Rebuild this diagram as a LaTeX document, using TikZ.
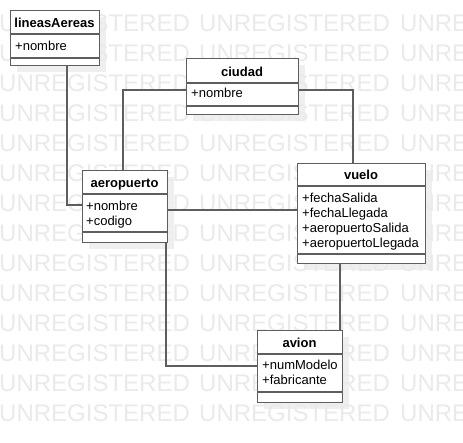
\documentclass[tikz,border=0pt]{standalone}
\usepackage{fontspec}
\setmainfont{Liberation Sans}
\definecolor{wm}{HTML}{EAEAEA}
\definecolor{shd}{HTML}{EFEFEF}
\definecolor{ln}{HTML}{5E5E5E}
\tikzset{
  cls/.style={draw=ln, line width=1.4pt, fill=white, rectangle, inner sep=0pt, anchor=north west},
  shadowbox/.style={fill=shd, draw=none},
  hdr/.style={font=\fontsize{13}{15}\selectfont\bfseries, inner sep=0pt, anchor=base},
  attr/.style={font=\fontsize{13}{15}\selectfont, inner sep=0pt, anchor=base west},
  sep/.style={draw=ln, line width=1.4pt},
  conn/.style={draw=ln, line width=1.4pt},
  wmark/.style={font=\fontsize{24}{28}\selectfont, text=wm, inner sep=0pt, anchor=base west}
}
\begin{document}
\begin{tikzpicture}[x=1pt,y=-1pt]
\useasboundingbox (0,0) rectangle (463,442);
\fill[white] (0,0) rectangle (463,442);
% shadows
\fill[shadowbox] (17,17) rectangle (106,72);
\fill[shadowbox] (193,65) rectangle (305,121);
\fill[shadowbox] (89,177) rectangle (174,249);
\fill[shadowbox] (304,170) rectangle (432,270);
\fill[shadowbox] (264,337) rectangle (349,409);
% watermark
\foreach \k in {1,...,14}{
  \node[wmark] (wma\k) at (-1,30*\k+1) {UNREGISTERED};
  \node[wmark] (wmb\k) at (199,30*\k+1) {UNREGISTERED};
  \node[wmark] (wmc\k) at (400,30*\k+1) {UNREGISTERED};
}
% connectors
\coordinate (c1) at (67,205);
\coordinate (c2) at (123,90);
\coordinate (c3) at (353,90);
\coordinate (c5) at (166,366);
% classes
\node[cls, minimum width=89pt, minimum height=55pt] (la) at (10,10) {};
\node[cls, minimum width=112pt, minimum height=56pt] (ci) at (186,58) {};
\node[cls, minimum width=85pt, minimum height=72pt] (ae) at (82,170) {};
\node[cls, minimum width=128pt, minimum height=100pt] (vu) at (297,163) {};
\node[cls, minimum width=85pt, minimum height=72pt] (av) at (257,330) {};
% connectors between classes
\draw[conn] (la.south -| c1) -- (c1) -- (ae.west |- c1);
\draw[conn] (ci.west |- c2) -- (c2) -- (ae.north -| c2);
\draw[conn] (ci.east |- c3) -- (c3) -- (vu.north -| c3);
\draw[conn] (ae.east |- 0,210) -- (vu.west |- 0,210);
\draw[conn] (ae.south -| c5) -- (c5) -- (av.west |- c5);
\draw[conn] (vu.south -| 340,0) -- (av.north -| 340,0);
% compartments
\draw[sep] (10,34) -- (99,34) (10,58) -- (99,58);
\draw[sep] (186,83) -- (298,83) (186,106) -- (298,106);
\draw[sep] (82,194) -- (167,194) (82,232) -- (167,232);
\draw[sep] (297,186) -- (425,186) (297,254) -- (425,254);
\draw[sep] (257,354) -- (342,354) (257,392) -- (342,392);
% texts
\node[hdr] (lat) at (54.5,27) {lineasAereas};
\node[attr] (la1) at (15,50) {+nombre};
\node[hdr] (cit) at (242,76) {ciudad};
\node[attr] (ci1) at (191,97) {+nombre};
\node[hdr] (aet) at (124.5,187) {aeropuerto};
\node[attr] (ae1) at (86,210) {+nombre};
\node[attr] (ae2) at (86,225) {+codigo};
\node[hdr] (vut) at (361,179) {vuelo};
\node[attr] (vu1) at (302,202) {+fechaSalida};
\node[attr] (vu2) at (302,217) {+fechaLlegada};
\node[attr] (vu3) at (302,232) {+aeropuertoSalida};
\node[attr] (vu4) at (302,247) {+aeropuertoLlegada};
\node[hdr] (avt) at (299.5,347) {avion};
\node[attr] (av1) at (262,369) {+numModelo};
\node[attr] (av2) at (262,384) {+fabricante};
\end{tikzpicture}
\end{document}
